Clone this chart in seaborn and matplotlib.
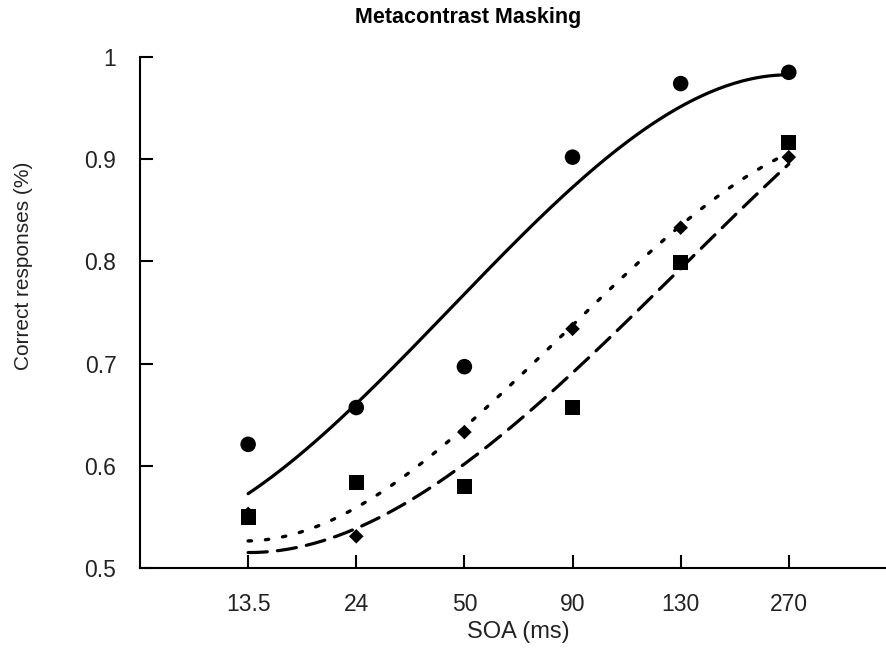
import numpy as np
import pandas as pd
import matplotlib
matplotlib.use("Agg")
import matplotlib.pyplot as plt
import seaborn as sns

# ---- data ----
soa_labels = ["13.5", "24", "50", "90", "130", "270"]
circles = [0.621, 0.657, 0.697, 0.902, 0.974, 0.985]
squares = [0.550, 0.584, 0.580, 0.657, 0.799, 0.916]
diamonds = [0.553, 0.531, 0.633, 0.734, 0.833, 0.902]
# fitted-curve values read at each SOA
fit_solid = [0.574, 0.657, 0.770, 0.876, 0.947, 0.984]
fit_dotted = [0.525, 0.564, 0.633, 0.737, 0.838, 0.905]
fit_dashed = [0.514, 0.542, 0.600, 0.688, 0.797, 0.894]
y_ticks = [0.5, 0.6, 0.7, 0.8, 0.9, 1.0]
y_ticklabels = ["0.5", "0.6", "0.7", "0.8", "0.9", "1"]

sns.set_theme(style="white")
plt.rcParams["font.family"] = ["Liberation Sans", "DejaVu Sans"]

pos = np.arange(len(soa_labels))
pts = pd.DataFrame({
    "pos": np.concatenate([pos, pos, pos]),
    "val": circles + squares + diamonds,
    "cond": ["c"] * 6 + ["s"] * 6 + ["d"] * 6,
})

fine = np.linspace(0, 5, 200)
curves = []
for name, vals in [("solid", fit_solid), ("dotted", fit_dotted), ("dashed", fit_dashed)]:
    coef = np.polyfit(pos, vals, 3)
    curves.append(pd.DataFrame({"pos": fine, "val": np.polyval(coef, fine), "kind": name}))
curves = pd.concat(curves)

fig = plt.figure(figsize=(8.87, 6.54), dpi=100)
ax = fig.add_axes([140 / 887, 1 - 568 / 654, 1 - 140 / 887 - 0.001, (568 - 57) / 654])

styles = {"solid": (None, 2.3), "dotted": ((1, 4.2), 2.4), "dashed": ((6, 3.2), 2.3)}
for kind, (dash, lw) in styles.items():
    d = curves[curves["kind"] == kind]
    sns.lineplot(data=d, x="pos", y="val", ax=ax, color="black", lw=lw,
                 legend=False, estimator=None)
for line, (kind, (dash, lw)) in zip(ax.lines, styles.items()):
    if dash is not None:
        line.set_dashes(dash)
        line.set_dash_capstyle("round")

sns.scatterplot(data=pts, x="pos", y="val", style="cond", markers={"c": "o", "s": "s", "d": "D"},
                hue="cond", palette={"c": "black", "s": "black", "d": "black"},
                size="cond", sizes={"c": 125, "s": 120, "d": 55},
                edgecolor="black", linewidth=0, legend=False, ax=ax, zorder=5)

ax.set_xlim(-1.0, 5.9)
ax.set_ylim(0.5, 1.0)
ax.set_xticks(pos)
ax.set_xticklabels(soa_labels)
ax.set_yticks(y_ticks)
ax.set_yticklabels(y_ticklabels)
for s in ["top", "right"]:
    ax.spines[s].set_visible(False)
for s in ["left", "bottom"]:
    ax.spines[s].set_color("black")
    ax.spines[s].set_linewidth(1.5)
ax.tick_params(axis="both", direction="in", length=9.5, width=1.5, colors="black",
               labelsize=16.5, labelcolor="#222222")
ax.tick_params(axis="y", pad=17, left=True)
ax.tick_params(axis="x", pad=18, bottom=True)
ax.set_xlabel("")
ax.set_ylabel("")

fig.text(518 / 887, 1 - 632 / 654, "SOA (ms)", ha="center", va="center", fontsize=17, color="#222222")
fig.text(24 / 887, 1 - 266 / 654, "Correct responses (%)", ha="center", va="center",
         rotation=90, fontsize=15, color="#222222")
fig.text(468 / 887, 1 - 18 / 654, "Metacontrast Masking", ha="center", va="center",
         fontsize=15.5, fontweight="bold", color="black")

fig.savefig("out.png", dpi=100)
